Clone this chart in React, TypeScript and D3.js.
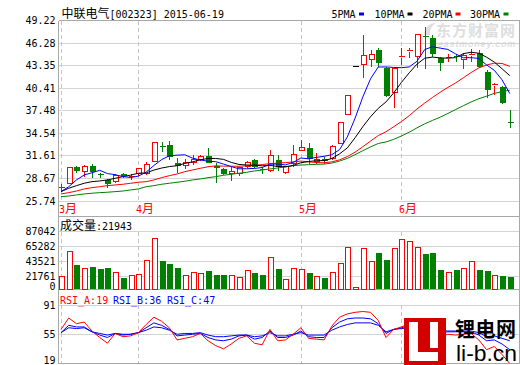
import * as d3 from "d3";

// daily bars, 2015-03 .. 2015-06-19
const opens = [27.45, 28.05, 30.14, 29.56, 30.3, 29.2, 28.48, 28.26, 29.26, 28.85, 29.3, 29.35, 30.91, 32.85, 33.03, 30.65, 30.34, 30.78, 31.17, 31.6, 30.34, 29.91, 29.26, 29.35, 30.21, 31.08, 29.9, 29.69, 31.08, 29.43, 30.56, 32.38, 32.6, 30.86, 31.17, 31.3, 33.17, 37.03, 43.36, 43.54, 44.19, 45.4, 43.1, 39.9, 44.32, 45.2, 44.53, 47.2, 46.93, 44.4, 44.19, 44.5, 44.19, 44.7, 44.97, 42.5, 40.8, 40.63, 35.9];
const highs = [27.9, 30.2, 30.25, 30.43, 30.56, 29.4, 28.6, 29.22, 29.35, 29.3, 30.1, 30.86, 33.45, 33.46, 33.6, 31.3, 31.17, 31.73, 31.7, 32.68, 30.65, 30.0, 30.21, 30.2, 30.9, 31.2, 30.2, 32.38, 31.7, 30.3, 33.04, 33.7, 33.33, 31.95, 31.5, 33.0, 36.0, 39.5, 43.36, 47.36, 45.4, 45.63, 43.2, 43.1, 45.63, 45.7, 47.45, 48.44, 47.36, 44.53, 44.84, 44.84, 44.97, 45.5, 45.4, 42.8, 41.07, 40.76, 37.59];
const lows = [27.05, 27.95, 29.35, 28.9, 28.7, 28.7, 27.4, 28.05, 28.7, 28.5, 29.0, 29.13, 30.85, 32.16, 31.08, 29.35, 29.87, 30.43, 30.9, 30.65, 28.05, 29.1, 28.4, 29.0, 30.1, 30.1, 29.3, 29.56, 29.6, 29.26, 30.21, 32.2, 30.56, 30.56, 30.6, 31.1, 33.1, 36.9, 43.36, 41.72, 43.23, 43.23, 39.3, 37.89, 43.45, 44.4, 43.02, 42.93, 44.53, 42.67, 43.8, 43.9, 42.93, 43.9, 43.1, 39.12, 39.55, 38.34, 35.29];
const closes = [27.5, 30.14, 29.7, 30.21, 29.56, 29.1, 27.96, 29.04, 28.95, 28.95, 30.0, 30.52, 33.39, 32.78, 31.51, 30.34, 30.78, 31.17, 31.6, 30.73, 30.0, 29.26, 29.56, 30.08, 30.78, 30.21, 29.85, 31.73, 30.21, 30.21, 31.82, 32.73, 31.17, 31.17, 30.9, 32.9, 35.99, 39.42, 43.36, 44.66, 44.84, 43.67, 39.46, 43.02, 44.53, 45.3, 47.36, 47.1, 44.84, 43.67, 44.45, 44.4, 44.66, 44.8, 43.23, 40.2, 40.9, 38.47, 35.85];
const volumes = [21800, 59000, 38700, 33900, 36300, 32900, 34800, 28000, 20300, 24200, 25100, 45900, 77400, 44500, 40100, 34800, 24200, 28000, 26600, 30000, 24200, 24200, 24200, 21300, 31400, 27600, 24200, 49800, 32900, 18400, 33900, 32400, 27100, 22200, 20300, 28000, 41100, 64300, 6800, 62900, 44500, 56100, 45900, 62900, 75900, 73000, 64300, 54600, 56100, 31400, 28000, 31400, 33900, 44000, 31400, 30000, 23700, 22700, 21943];

const ma5 = [26.96, 27.6, 28.48, 29.13, 29.42, 29.74, 29.31, 29.17, 28.92, 28.8, 28.98, 29.49, 30.36, 31.13, 31.64, 31.71, 31.76, 31.32, 31.08, 30.92, 30.86, 30.55, 30.23, 29.93, 29.94, 29.98, 30.1, 30.53, 30.56, 30.44, 30.76, 31.34, 31.23, 31.42, 31.56, 31.77, 32.43, 34.08, 36.51, 39.27, 41.65, 43.19, 43.2, 43.13, 43.1, 43.2, 43.93, 45.46, 45.83, 45.65, 45.48, 44.89, 44.4, 44.4, 44.31, 43.46, 42.76, 41.52, 39.73];
const ma10 = [26.96, 27.4, 27.74, 28.05, 28.26, 28.35, 28.48, 28.7, 28.91, 29.11, 29.36, 29.4, 29.77, 30.03, 30.22, 30.34, 30.63, 30.84, 31.1, 31.28, 31.28, 31.16, 30.77, 30.5, 30.43, 30.42, 30.32, 30.38, 30.24, 30.19, 30.37, 30.72, 30.88, 30.99, 31.0, 31.27, 31.88, 32.65, 33.97, 35.41, 36.71, 37.81, 38.64, 39.82, 41.19, 42.43, 43.56, 44.33, 44.48, 44.38, 44.34, 44.41, 44.93, 45.11, 44.98, 44.47, 43.83, 42.96, 42.06];
const ma20 = [26.66, 26.83, 27.04, 27.31, 27.48, 27.6, 27.74, 27.83, 27.92, 28.05, 28.18, 28.26, 28.48, 28.78, 29.04, 29.26, 29.56, 29.78, 30.0, 30.2, 30.32, 30.28, 30.27, 30.26, 30.33, 30.38, 30.48, 30.61, 30.67, 30.74, 30.83, 30.94, 30.83, 30.75, 30.72, 30.84, 31.1, 31.52, 32.1, 32.8, 33.54, 34.26, 34.76, 35.41, 36.09, 36.85, 37.72, 38.49, 39.22, 39.9, 40.53, 41.11, 41.79, 42.47, 43.08, 43.45, 43.69, 43.65, 43.27];
const ma30 = [26.3, 26.39, 26.53, 26.66, 26.75, 26.83, 26.88, 26.96, 27.04, 27.18, 27.31, 27.6, 27.74, 27.92, 28.05, 28.18, 28.31, 28.48, 28.61, 28.78, 28.91, 29.09, 29.22, 29.35, 29.48, 29.65, 29.78, 29.91, 30.04, 30.19, 30.34, 30.42, 30.47, 30.51, 30.55, 30.68, 30.94, 31.29, 31.77, 32.29, 32.79, 33.23, 33.43, 33.77, 34.21, 34.7, 35.26, 35.79, 36.23, 36.66, 37.14, 37.65, 38.15, 38.64, 39.06, 39.39, 39.76, 39.98, 40.17];

const rsiA = [61, 75, 68, 70, 59, 51, 44, 56, 52, 53, 57, 67, 76, 71, 63, 48, 50, 52, 56, 47, 41, 37, 43, 50, 53, 44, 42, 61, 47, 48, 55, 63, 50, 49, 48, 65, 76, 80, 82, 83, 82, 72, 51, 61, 64, 68, 70, 68, 57, 52, 55, 54, 55, 56, 48, 36, 40, 30, 19];
const rsiB = [57, 66, 64, 64, 58, 54, 51, 56, 54, 55, 57, 63, 69, 66, 61, 53, 54, 55, 56, 51, 48, 47, 49, 53, 54, 49, 51, 59, 51, 51, 54, 59, 52, 51, 51, 63, 70, 74, 75, 75, 74, 68, 56, 61, 63, 66, 67, 66, 60, 57, 58, 58, 58, 58, 54, 47, 48, 43, 36];
const rsiC = [57, 63, 62, 63, 58, 56, 54, 56, 55, 55, 57, 60, 64, 63, 60, 55, 56, 56, 57, 54, 52, 52, 53, 54, 54, 52, 53, 57, 53, 53, 55, 57, 54, 54, 54, 60, 64, 67, 69, 69, 69, 66, 58, 61, 62, 63, 64, 64, 61, 59, 59, 59, 59, 59, 57, 52, 53, 50, 47];

const priceTicks = [49.22, 46.28, 43.35, 40.41, 37.48, 34.54, 31.61, 28.67, 25.74];
const volumeTicks = [87042, 65282, 43521, 21761, 0];
const rsiTicks = [91, 55, 19];
const monthStarts = [0, 10, 31, 44];
const monthLabels = ["3月", "4月", "5月", "6月"];

const RED = "#ff0000";
const GREEN = "#008000";
const BLUE = "#0000ff";
const GRID = "#d4d4d4";
const FRAME = "#a8a8a8";
const MONO = "'DejaVu Sans Mono', monospace";
const CJK_FONT = "'Noto Sans CJK SC', sans-serif";

const maLines = [
  { name: "30PMA", values: ma30, color: GREEN },
  { name: "20PMA", values: ma20, color: RED },
  { name: "10PMA", values: ma10, color: "#000000" },
  { name: "5PMA", values: ma5, color: BLUE },
];
const rsiLines = [
  { name: "RSI_C", values: rsiC, color: BLUE },
  { name: "RSI_B", values: rsiB, color: BLUE },
  { name: "RSI_A", values: rsiA, color: RED },
];

const LEFT = 58.5;
const RIGHT = 519.5;
const PRICE_TOP = 20.5;
const PRICE_BOTTOM = 201;
const VOL_TOP = 216.5;
const VOL_BOTTOM = 289.5;
const RSI_TOP = 305;
const RSI_BOTTOM = 363.5;

const x = d3.scaleLinear().domain([0, closes.length - 1]).range([61, 509.8]);
const yPrice = d3.scaleLinear().domain([25.74, 49.22]).range([PRICE_BOTTOM, 20.7]);
const yVol = d3.scaleLinear().domain([0, 87042]).range([291.7, 231.7]);
const yRsi = d3.scaleLinear().domain([19, 91]).range([RSI_BOTTOM, RSI_TOP]);

// text with SimSun-like mix: half width ascii, full width CJK
const CJK_RE = /[\u2E80-\u9FFF\uFF00-\uFFEF]/;
function Mixed({ text, x, y, fill = "#000", anchor = "start" }: any) {
  const runs: string[] = text.match(/[\u2E80-\u9FFF\uFF00-\uFFEF]+|[^\u2E80-\u9FFF\uFF00-\uFFEF]+/g) || [];
  return (
    <text x={x} y={y} fill={fill} textAnchor={anchor}>
      {runs.map((r, i) =>
        CJK_RE.test(r) ? (
          <tspan key={i} fontFamily={CJK_FONT} fontSize={12}>{r}</tspan>
        ) : (
          <tspan key={i} fontFamily={MONO} fontSize={10} xmlSpace="preserve">{r}</tspan>
        )
      )}
    </text>
  );
}

function Candles() {
  return (
    <g shapeRendering="crispEdges">
      {closes.map((c, i) => {
        const o = opens[i];
        const cx = Math.round(x(i)) + 0.5;
        const hi = yPrice(highs[i]);
        const lo = yPrice(lows[i]);
        if (c === o) {
          const yy = Math.round(yPrice(c)) + 0.5;
          return <line key={i} x1={cx - 3} x2={cx + 3} y1={yy} y2={yy} stroke="#000" />;
        }
        const up = c > o;
        const top = yPrice(Math.max(o, c));
        const bot = yPrice(Math.min(o, c));
        const h = Math.max(1, bot - top);
        if (up) {
          return (
            <g key={i} stroke={RED}>
              <line x1={cx} x2={cx} y1={hi} y2={top} />
              <line x1={cx} x2={cx} y1={top + h} y2={lo} />
              {h < 2 ? (
                <line x1={cx - 3} x2={cx + 3} y1={top} y2={top} />
              ) : (
                <rect x={cx - 2.5} y={top} width={5} height={h} fill="none" />
              )}
            </g>
          );
        }
        return (
          <g key={i}>
            <line x1={cx} x2={cx} y1={hi} y2={lo} stroke={GREEN} />
            {h < 2 ? (
              <line x1={cx - 3} x2={cx + 3} y1={top} y2={top} stroke={GREEN} />
            ) : (
              <rect x={cx - 3} y={top} width={6} height={h} fill={GREEN} />
            )}
          </g>
        );
      })}
    </g>
  );
}

function VolumeBars() {
  const base = 289;
  return (
    <g shapeRendering="crispEdges">
      {volumes.map((v, i) => {
        const cx = Math.round(x(i)) + 0.5;
        const top = yVol(v);
        const up = closes[i] >= opens[i];
        return up ? (
          <rect key={i} x={cx - 2.5} y={top} width={5} height={Math.max(1, base - top)} fill="#fff" stroke={RED} />
        ) : (
          <rect key={i} x={cx - 3} y={top} width={6} height={base - top} fill={GREEN} />
        );
      })}
    </g>
  );
}

export default function App() {
  const priceLine = d3.line<number>().x((_, i) => x(i)).y((d) => yPrice(d));
  const rsiLine = d3.line<number>().x((_, i) => x(i)).y((d) => yRsi(d));

  const legend = [
    { name: "5PMA", color: BLUE, tx: 331.5, sx: 359 },
    { name: "10PMA", color: "#000", tx: 374.5, sx: 407.5 },
    { name: "20PMA", color: RED, tx: 422.5, sx: 455.5 },
    { name: "30PMA", color: GREEN, tx: 470, sx: 503.5 },
  ];

  return (
    <svg width={520} height={365} style={{ position: "absolute", left: 0, top: 0, display: "block" }}>
      <defs>
        <clipPath id="rsiClip">
          <rect x={LEFT} y={RSI_TOP - 10} width={RIGHT - LEFT} height={RSI_BOTTOM - RSI_TOP + 10} />
        </clipPath>
      </defs>
      <rect width={520} height={365} fill="#fff" />

      {/* watermark */}
      <g fill="#dedede">
        <path d="M424,35 q2,-12 12,-12 q-7,4 -6,12 z" />
        <text x={436} y={36} fontFamily={CJK_FONT} fontSize={15} fontWeight="bold" letterSpacing={1}>东方财富网</text>
        <text x={438} y={47} fontFamily="'Liberation Sans', sans-serif" fontSize={9} fontWeight="bold" fontStyle="italic" letterSpacing={0.8}>eastmoney.com</text>
      </g>

      {/* grid */}
      <g stroke={GRID} shapeRendering="crispEdges">
        {priceTicks.slice(1).map((t) => (
          <line key={t} x1={LEFT} x2={RIGHT} y1={yPrice(t)} y2={yPrice(t)} />
        ))}
        {volumeTicks.slice(0, -1).map((t) => (
          <line key={t} x1={LEFT} x2={RIGHT} y1={yVol(t)} y2={yVol(t)} />
        ))}
        {rsiTicks.slice(0, -1).map((t) => (
          <line key={t} x1={LEFT} x2={RIGHT} y1={yRsi(t)} y2={yRsi(t)} />
        ))}
      </g>
      <g stroke="#c4c4c4" strokeDasharray="4,3" shapeRendering="crispEdges">
        {monthStarts.map((m) => {
          const mx = Math.round(x(m)) + 0.5;
          return (
            <g key={m}>
              <line x1={mx} x2={mx} y1={PRICE_TOP} y2={PRICE_BOTTOM} />
              <line x1={mx} x2={mx} y1={yVol(87042)} y2={VOL_BOTTOM} />
              <line x1={mx} x2={mx} y1={RSI_TOP} y2={RSI_BOTTOM} />
            </g>
          );
        })}
      </g>

      {/* frame */}
      <g stroke={FRAME} fill="none" shapeRendering="crispEdges">
        <line x1={LEFT} x2={RIGHT} y1={PRICE_TOP} y2={PRICE_TOP} />
        <line x1={LEFT} x2={RIGHT} y1={VOL_TOP} y2={VOL_TOP} />
        <line x1={LEFT} x2={RIGHT} y1={VOL_BOTTOM} y2={VOL_BOTTOM} />
        <line x1={LEFT} x2={RIGHT} y1={RSI_BOTTOM} y2={RSI_BOTTOM} />
        <line x1={LEFT} x2={LEFT} y1={PRICE_TOP} y2={RSI_BOTTOM} />
        <line x1={RIGHT} x2={RIGHT} y1={PRICE_TOP} y2={RSI_BOTTOM} />
      </g>

      <Candles />
      <g fill="none" strokeWidth={1}>
        {maLines.map((s) => (
          <path key={s.name} d={priceLine(s.values) || ""} stroke={s.color} />
        ))}
      </g>

      <VolumeBars />

      <g fill="none" clipPath="url(#rsiClip)">
        {rsiLines.map((s) => (
          <path key={s.name} d={rsiLine(s.values) || ""} stroke={s.color} />
        ))}
      </g>

      {/* axis labels */}
      <g fontFamily={MONO} fontSize={10} fill="#000" textAnchor="end">
        {priceTicks.map((t) => (
          <text key={t} x={55.5} y={yPrice(t) + 3.5}>{t.toFixed(2)}</text>
        ))}
        {volumeTicks.map((t) => (
          <text key={t} x={55.5} y={Math.min(yVol(t), 286.5) + 3.5}>{t}</text>
        ))}
        {rsiTicks.map((t) => (
          <text key={t} x={55.5} y={Math.min(yRsi(t), 360) + 3.5}>{t}</text>
        ))}
      </g>

      {monthStarts.map((m, i) => (
        <Mixed key={m} text={monthLabels[i]} x={Math.round(x(m)) - 2} y={213} fill={RED} />
      ))}

      {/* title + legend */}
      <Mixed text="中联电气[002323] 2015-06-19" x={61.5} y={18} />
      {legend.map((l) => (
        <g key={l.name}>
          <text x={l.tx} y={17.5} fontFamily={MONO} fontSize={10}>{l.name}</text>
          <rect x={l.sx} y={12.5} width={5} height={3} fill={l.color} />
        </g>
      ))}

      <Mixed text={`成交量:${volumes[volumes.length - 1]}`} x={60} y={230} />

      <g fontFamily={MONO} fontSize={10}>
        <text x={60} y={303.5} fill={RED}>RSI_A:{rsiA[rsiA.length - 1]}</text>
        <text x={113} y={303.5} fill={BLUE}>RSI_B:{rsiB[rsiB.length - 1]}</text>
        <text x={167} y={303.5} fill={BLUE}>RSI_C:{rsiC[rsiC.length - 1]}</text>
      </g>

      {/* site logo */}
      <g>
        <rect x={404} y={318} width={42} height={47} fill="#d40000" />
        <path d="M409,322 h9 v30 h20 v9 h-29 z" fill="#fff" />
        <rect x={430} y={322} width={8} height={26} fill="#fff" />
        <text x={455} y={337} fontFamily={CJK_FONT} fontSize={20} fontWeight="bold" letterSpacing={0.5}>锂电网</text>
        <text x={456} y={361} fontFamily="'Liberation Sans', sans-serif" fontSize={22} textLength={61} lengthAdjust="spacingAndGlyphs">li-b.cn</text>
      </g>
    </svg>
  );
}
